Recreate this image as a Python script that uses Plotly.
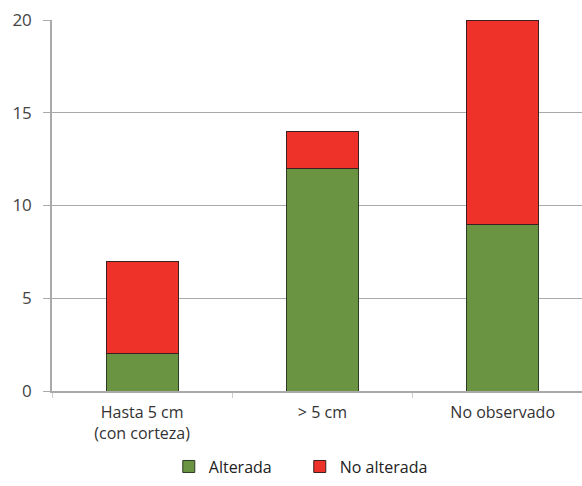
import plotly.graph_objects as go

categories = ["Hasta 5 cm<br>(con corteza)", "> 5 cm", "No observado"]
alterada = [2, 12, 9]
no_alterada = [5, 2, 11]
y_ticks = [0, 5, 10, 15, 20]

fig = go.Figure()
fig.add_trace(go.Bar(x=categories, y=alterada, name="Alterada",
                     marker=dict(color="#6b9442", line=dict(color="#2f3a25", width=1)),
                     width=0.4))
fig.add_trace(go.Bar(x=categories, y=no_alterada, name="No alterada",
                     marker=dict(color="#ee3129", line=dict(color="#3a2020", width=1)),
                     width=0.4))

fig.update_layout(
    barmode="stack",
    width=582, height=486,
    margin=dict(l=52, r=0, t=20, b=95, autoexpand=False),
    plot_bgcolor="white", paper_bgcolor="white",
    font=dict(family="Open Sans, Noto Sans, sans-serif", size=16, color="#333333"),
    showlegend=True,
    legend=dict(orientation="h", xref="container", x=0.29, xanchor="left",
                yref="container", y=0.005, yanchor="bottom",
                font=dict(size=16, color="#222222"), traceorder="normal",
                entrywidth=86, entrywidthmode="pixels"),
)
fig.update_xaxes(range=[-0.5, 2.44], showline=True, linecolor="#aaaaaa", linewidth=1.5,
                 ticks="outside", tickson="boundaries", ticklen=5, tickcolor="#cccccc",
                 tickfont=dict(size=16, color="#333333"), showgrid=False,
                 ticklabelstandoff=6, automargin=False)
fig.update_yaxes(range=[0, 20], tickvals=y_ticks, showline=True, linecolor="#aaaaaa",
                 linewidth=1.5, ticks="outside", ticklen=7, tickcolor="#aaaaaa",
                 gridcolor="#aaaaaa", gridwidth=1, zeroline=False,
                 tickfont=dict(size=17, color="#444444"), ticklabelstandoff=8,
                 automargin=False)

fig.write_html("out.html")
